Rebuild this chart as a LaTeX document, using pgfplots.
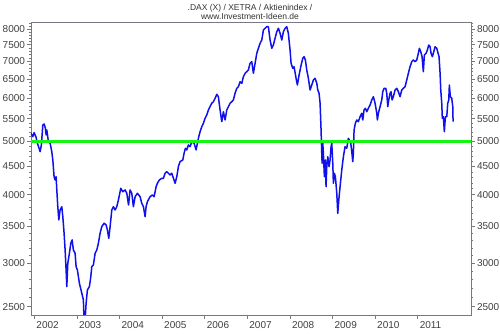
\documentclass[border=0pt]{standalone}
\usepackage{pgfplots}
\pgfplotsset{compat=1.18}
\usepackage{fontspec}
\setmainfont{Liberation Sans}
\definecolor{linblue}{RGB}{16,16,235}
\definecolor{lingreen}{RGB}{20,245,20}
\definecolor{axgray}{RGB}{120,120,130}
\pgfkeys{/pgf/number format/1000 sep={}, /pgf/number format/assume math mode=true}
\begin{document}
\begin{tikzpicture}
\useasboundingbox (0,0) rectangle (500pt,333pt);
\fill[white] (0,0) rectangle (500pt,333pt);
\node[font=\fontsize{8.5}{10}\selectfont, text=black!80, align=center, anchor=north] at (250pt,332pt) {.DAX (X) / XETRA / Aktienindex /\\[-1pt]www.Investment-Ideen.de};
\begin{axis}[
    at={(31pt,18pt)}, anchor=south west,
    width=440pt, height=293pt, scale only axis,
    xmin=2001.92, xmax=2012.25,
    ymode=log, ymin=2414, ymax=8249,
    ytick={2500,3000,3500,4000,4500,5000,5500,6000,6500,7000,7500,8000},
    yticklabels={2500,3000,3500,4000,4500,5000,5500,6000,6500,7000,7500,8000},
    minor ytick={2500,2600,2700,2800,2900,3000,3100,3200,3300,3400,3500,3600,3700,3800,3900,4000,4100,4200,4300,4400,4500,4600,4700,4800,4900,5000,5100,5200,5300,5400,5500,5600,5700,5800,5900,6000,6100,6200,6300,6400,6500,6600,6700,6800,6900,7000,7100,7200,7300,7400,7500,7600,7700,7800,7900,8000,8100,8200},
    tick align=outside,
    major tick length=4pt, minor tick length=2pt,
    tick style={axgray, line width=0.6pt},
    minor tick style={axgray, line width=0.5pt},
    axis line style={axgray, line width=0.8pt},
    tick label style={font=\fontsize{10}{11}\selectfont, text=black!75},
    ytick pos=left,
    xtick={2002,2003,2004,2005,2006,2007,2008,2009,2010,2011},
    xticklabels={2002,2003,2004,2005,2006,2007,2008,2009,2010,2011},
    xtick pos=bottom,
    xticklabel style={anchor=north west, xshift=-1.5pt, yshift=1pt},
    yticklabel style={xshift=1.5pt},
  ]
\addplot[linblue, line width=1.5pt, line join=round] table {
x y
2001.920 5172
2001.962 5099
2001.993 5185
2002.040 5086
2002.070 4960
2002.110 4857
2002.134 4789
2002.164 4925
2002.197 5355
2002.228 5378
2002.258 5282
2002.275 5136
2002.291 5244
2002.329 4993
2002.369 4960
2002.408 4789
2002.432 4625
2002.462 4312
2002.486 4252
2002.509 4312
2002.526 4078
2002.549 3802
2002.573 3596
2002.603 3750
2002.643 3802
2002.667 3646
2002.697 3401
2002.721 3171
2002.744 2916
2002.761 2719
2002.784 2999
2002.822 3127
2002.854 3261
2002.885 3307
2002.915 3171
2002.955 3127
2002.979 2956
2003.009 2916
2003.056 2758
2003.113 2644
2003.150 2571
2003.174 2250
2003.214 2536
2003.244 2681
2003.291 2719
2003.324 2835
2003.347 2956
2003.385 2978
2003.425 3127
2003.465 3171
2003.502 3261
2003.542 3401
2003.582 3497
2003.636 3547
2003.683 3522
2003.714 3448
2003.746 3330
2003.777 3497
2003.817 3750
2003.854 3802
2003.894 3750
2003.934 3802
2003.972 3910
2004.028 4107
2004.075 4049
2004.129 4078
2004.169 4022
2004.210 3829
2004.246 4078
2004.286 4022
2004.324 3802
2004.364 3965
2004.418 4022
2004.481 3965
2004.521 3857
2004.559 3802
2004.599 3646
2004.622 3802
2004.653 3883
2004.716 3965
2004.770 3994
2004.810 3965
2004.857 4134
2004.887 4194
2004.934 4252
2004.991 4283
2005.028 4283
2005.068 4374
2005.108 4403
2005.146 4374
2005.185 4343
2005.225 4374
2005.263 4283
2005.303 4194
2005.343 4312
2005.380 4497
2005.420 4592
2005.484 4625
2005.514 4757
2005.545 4857
2005.577 4823
2005.615 4925
2005.655 4890
2005.695 4993
2005.749 4960
2005.796 4823
2005.826 4960
2005.859 5099
2005.890 5207
2005.930 5317
2005.967 5394
2006.007 5508
2006.047 5585
2006.085 5703
2006.124 5783
2006.164 5866
2006.202 5905
2006.242 5990
2006.282 6091
2006.319 6030
2006.359 5703
2006.399 5431
2006.437 5662
2006.477 5469
2006.516 5703
2006.554 5783
2006.594 5866
2006.634 5905
2006.671 5948
2006.711 6117
2006.751 6246
2006.789 6289
2006.829 6421
2006.869 6379
2006.906 6558
2006.946 6652
2006.986 6697
2007.023 6745
2007.063 6936
2007.103 6984
2007.141 6652
2007.181 6936
2007.221 7234
2007.258 7387
2007.298 7543
2007.338 7648
2007.376 7976
2007.415 8033
2007.455 8087
2007.493 8087
2007.533 7648
2007.573 7387
2007.610 7490
2007.650 7704
2007.690 7919
2007.728 8033
2007.768 7866
2007.808 7648
2007.845 7919
2007.885 8033
2007.925 8087
2007.962 7866
2008.002 7335
2008.026 6936
2008.066 6793
2008.096 6838
2008.143 6514
2008.174 6333
2008.214 6605
2008.253 6838
2008.300 7084
2008.331 7131
2008.362 7034
2008.394 6745
2008.432 6514
2008.472 6202
2008.512 6333
2008.549 6468
2008.589 6514
2008.629 6379
2008.653 6202
2008.683 6117
2008.707 5866
2008.730 5244
2008.746 4757
2008.754 4561
2008.770 4960
2008.784 4757
2008.808 4312
2008.831 4625
2008.847 4134
2008.864 4497
2008.887 4689
2008.918 4497
2008.941 4625
2008.965 4890
2008.981 4960
2009.005 4561
2009.019 4194
2009.042 4374
2009.066 4312
2009.099 4022
2009.122 3698
2009.146 3910
2009.176 4134
2009.216 4435
2009.254 4689
2009.293 4890
2009.333 4857
2009.371 5065
2009.394 5029
2009.427 4960
2009.451 4789
2009.474 4592
2009.488 4757
2009.505 5244
2009.535 5394
2009.568 5469
2009.606 5431
2009.646 5545
2009.685 5625
2009.709 5469
2009.739 5703
2009.770 5744
2009.803 5662
2009.840 5744
2009.880 5824
2009.920 5948
2009.958 6030
2009.998 5866
2010.038 5625
2010.052 5469
2010.075 5625
2010.115 5783
2010.155 5948
2010.178 6158
2010.209 6246
2010.249 6246
2010.272 6117
2010.296 5783
2010.319 5948
2010.350 6117
2010.373 6158
2010.397 5948
2010.427 6030
2010.467 6202
2010.507 6246
2010.545 6158
2010.585 6030
2010.624 6202
2010.662 6246
2010.702 6289
2010.742 6468
2010.779 6652
2010.819 6838
2010.859 6984
2010.897 7034
2010.937 6984
2010.977 7034
2011.014 7234
2011.038 7387
2011.070 7283
2011.101 7131
2011.131 6697
2011.155 7182
2011.195 7234
2011.225 7335
2011.258 7490
2011.289 7436
2011.312 7234
2011.343 7131
2011.376 7283
2011.406 7436
2011.446 7387
2011.477 7234
2011.500 7131
2011.524 6652
2011.540 6202
2011.563 5866
2011.577 5508
2011.601 5545
2011.624 5207
2011.648 5545
2011.681 5545
2011.704 5866
2011.728 5948
2011.742 6333
2011.765 6030
2011.798 5990
2011.822 5783
2011.829 5431
};
\addplot[lingreen, line width=3.5pt] coordinates {(2001.92,5000) (2012.25,5000)};
\end{axis}
\begin{axis}[
    at={(31pt,18pt)}, anchor=south west,
    width=440pt, height=293pt, scale only axis,
    xmin=2001.92, xmax=2012.25,
    ymode=log, ymin=2414, ymax=8249,
    ytick={2500,3000,3500,4000,4500,5000,5500,6000,6500,7000,7500,8000},
    yticklabels={2500,3000,3500,4000,4500,5000,5500,6000,6500,7000,7500,8000},
    minor ytick={2500,2600,2700,2800,2900,3000,3100,3200,3300,3400,3500,3600,3700,3800,3900,4000,4100,4200,4300,4400,4500,4600,4700,4800,4900,5000,5100,5200,5300,5400,5500,5600,5700,5800,5900,6000,6100,6200,6300,6400,6500,6600,6700,6800,6900,7000,7100,7200,7300,7400,7500,7600,7700,7800,7900,8000,8100,8200},
    tick align=outside,
    major tick length=4pt, minor tick length=2pt,
    tick style={axgray, line width=0.6pt},
    minor tick style={axgray, line width=0.5pt},
    axis line style={axgray, line width=0.8pt},
    tick label style={font=\fontsize{10}{11}\selectfont, text=black!75},
    xtick=\empty,
    axis x line=none,
    axis y line*=right,
    yticklabel style={xshift=-1.5pt},
  ]
\end{axis}
\end{tikzpicture}
\end{document}
